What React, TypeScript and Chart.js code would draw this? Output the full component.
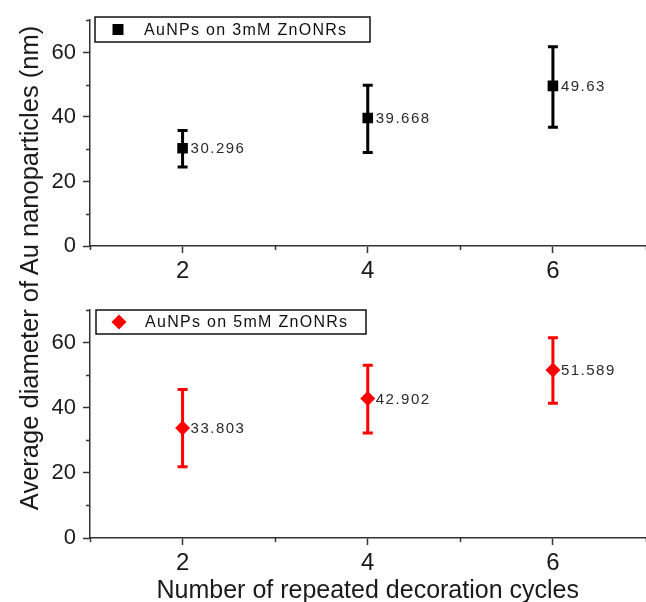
import React, { useEffect, useRef } from "react";
import { Chart, registerables } from "chart.js";

Chart.register(...registerables);

// ---- data ----
const cycles = [2, 4, 6];
const mean3mM = [30.296, 39.668, 49.63];
const low3mM = [24.5, 29.0, 36.8];
const high3mM = [35.8, 49.8, 61.8];
const labels3mM = ["30.296", "39.668", "49.63"];
const mean5mM = [33.803, 42.902, 51.589];
const low5mM = [21.9, 32.3, 41.4];
const high5mM = [45.6, 53.1, 61.5];
const labels5mM = ["33.803", "42.902", "51.589"];
const xMajorTicks = [2, 4, 6];
const xMinorTicks = [1, 3, 5, 7];
const yMajorTicks = [0, 20, 40, 60];
const yMinorTicks = [10, 30, 50, 70];
const legend3mM = "AuNPs on 3mM ZnONRs";
const legend5mM = "AuNPs on 5mM ZnONRs";
const xTitle = "Number of repeated decoration cycles";
const yTitle = "Average diameter of Au nanoparticles (nm)";

const FONT = "'Liberation Sans', Arial, sans-serif";
const AXIS = "#333333";
const TEXT = "#1a1a1a";

const overlayPlugin = {
  id: "overlay",
  beforeDatasetsDraw(chart: any) {
    const o = chart.options.plugins.overlay;
    const ctx = chart.ctx;
    const xs = chart.scales.x;
    const ys = chart.scales.y;
    ctx.save();
    ctx.strokeStyle = o.color;
    ctx.lineWidth = 3;
    ctx.lineCap = "butt";
    o.xs.forEach((xv: number, i: number) => {
      const px = xs.getPixelForValue(xv);
      const pl = ys.getPixelForValue(o.low[i]);
      const ph = ys.getPixelForValue(o.high[i]);
      ctx.beginPath();
      ctx.moveTo(px, pl);
      ctx.lineTo(px, ph);
      ctx.moveTo(px - 5, pl);
      ctx.lineTo(px + 5, pl);
      ctx.moveTo(px - 5, ph);
      ctx.lineTo(px + 5, ph);
      ctx.stroke();
    });
    ctx.restore();
  },
  afterDatasetsDraw(chart: any) {
    const o = chart.options.plugins.overlay;
    const ctx = chart.ctx;
    const xs = chart.scales.x;
    const ys = chart.scales.y;
    ctx.save();
    ctx.fillStyle = "#2a2a2a";
    ctx.font = `15px ${FONT}`;
    (ctx as any).letterSpacing = "1.5px";
    ctx.textAlign = "left";
    ctx.textBaseline = "middle";
    o.xs.forEach((xv: number, i: number) => {
      const px = xs.getPixelForValue(xv);
      const py = ys.getPixelForValue(o.ys[i]);
      ctx.fillText(o.labels[i], px + 8, py + 1);
    });
    ctx.restore();
  },
  afterDraw(chart: any) {
    const o = chart.options.plugins.overlay;
    const ctx = chart.ctx;
    const xs = chart.scales.x;
    const ys = chart.scales.y;
    const area = chart.chartArea;
    ctx.save();
    // minor ticks
    ctx.strokeStyle = AXIS;
    ctx.lineWidth = 1.5;
    ctx.beginPath();
    yMinorTicks.forEach((v) => {
      const py = Math.round(ys.getPixelForValue(v)) + 0.5;
      ctx.moveTo(area.left, py);
      ctx.lineTo(area.left - 4, py);
    });
    xMinorTicks.forEach((v) => {
      const px = Math.round(xs.getPixelForValue(v)) + 0.5;
      ctx.moveTo(px, area.bottom);
      ctx.lineTo(px, area.bottom + 4);
    });
    ctx.stroke();
    // legend
    const b = o.legendBox;
    ctx.fillStyle = "#ffffff";
    ctx.fillRect(b.x, b.y, b.w, b.h);
    ctx.strokeStyle = "#111";
    ctx.lineWidth = 1.5;
    ctx.strokeRect(b.x, b.y, b.w, b.h);
    const mx = b.x + 23;
    const my = b.y + b.h / 2;
    ctx.fillStyle = o.color;
    ctx.beginPath();
    if (o.marker === "rect") {
      ctx.rect(mx - 5.5, my - 5.5, 11, 11);
    } else {
      ctx.moveTo(mx - 7.5, my);
      ctx.lineTo(mx, my - 7.5);
      ctx.lineTo(mx + 7.5, my);
      ctx.lineTo(mx, my + 7.5);
      ctx.closePath();
    }
    ctx.fill();
    ctx.fillStyle = "#111";
    ctx.font = `16px ${FONT}`;
    (ctx as any).letterSpacing = "1.3px";
    ctx.textAlign = "left";
    ctx.textBaseline = "middle";
    ctx.fillText(o.legendText, b.x + 49, my + 1);
    ctx.restore();
  },
};

type PanelProps = {
  means: number[];
  low: number[];
  high: number[];
  labels: string[];
  color: string;
  marker: string;
  legendText: string;
  legendBox: { x: number; y: number; w: number; h: number };
  height: number;
  padTop: number;
  xAxisHeight: number;
  showXTitle: boolean;
  top: number;
};

function Panel(p: PanelProps) {
  const ref = useRef<HTMLCanvasElement | null>(null);
  useEffect(() => {
    if (!ref.current) return;
    const chart = new Chart(ref.current, {
      type: "scatter",
      data: {
        datasets: [
          {
            label: p.legendText,
            data: cycles.map((c, i) => ({ x: c, y: p.means[i] })),
            showLine: false,
            pointStyle: p.marker === "rect" ? "rect" : "rectRot",
            pointRadius: 7.5,
            pointHoverRadius: 7.5,
            backgroundColor: p.color,
            borderColor: p.color,
            borderWidth: 0,
          },
        ],
      },
      options: {
        animation: false,
        responsive: false,
        devicePixelRatio: 1,
        events: [],
        layout: { padding: { top: p.padTop, left: 0, right: 0, bottom: 0 } },
        plugins: {
          legend: { display: false },
          tooltip: { enabled: false },
          overlay: {
            xs: cycles,
            ys: p.means,
            low: p.low,
            high: p.high,
            labels: p.labels,
            color: p.color,
            marker: p.marker,
            legendText: p.legendText,
            legendBox: p.legendBox,
          },
        } as any,
        scales: {
          x: {
            type: "linear",
            min: 1,
            max: 7,
            afterBuildTicks: (s: any) => {
              s.ticks = xMajorTicks.map((v) => ({ value: v }));
            },
            afterFit: (s: any) => {
              s.height = p.xAxisHeight;
            },
            grid: {
              drawOnChartArea: false,
              drawTicks: true,
              tickLength: 7,
              tickWidth: 1.5,
              tickColor: AXIS,
            },
            border: { display: true, color: AXIS, width: 1.5 },
            ticks: {
              color: TEXT,
              font: { family: FONT, size: 24 },
              padding: 4,
              maxRotation: 0,
              autoSkip: false,
              callback: (v: any) => String(v),
            },
            title: {
              display: p.showXTitle,
              text: xTitle,
              color: TEXT,
              font: { family: FONT, size: 25, lineHeight: 0.9 },
              padding: { top: 0, bottom: 0 },
            },
          },
          y: {
            type: "linear",
            min: 0,
            max: 70,
            afterBuildTicks: (s: any) => {
              s.ticks = yMajorTicks.map((v) => ({ value: v }));
            },
            afterFit: (s: any) => {
              s.width = 90;
            },
            grid: {
              drawOnChartArea: false,
              drawTicks: true,
              tickLength: 7,
              tickWidth: 1.5,
              tickColor: AXIS,
            },
            border: { display: true, color: AXIS, width: 1.5 },
            ticks: {
              color: TEXT,
              font: { family: FONT, size: 22 },
              padding: 7,
              callback: (v: any) => String(v),
            },
          },
        },
      },
      plugins: [overlayPlugin as any],
    });
    return () => chart.destroy();
  }, []);
  return (
    <canvas
      ref={ref}
      width={653}
      height={p.height}
      style={{ position: "absolute", left: 0, top: p.top, width: 653, height: p.height }}
    />
  );
}

export default function App() {
  return (
    <div
      style={{
        position: "absolute",
        left: 0,
        top: 0,
        width: 646,
        height: 602,
        overflow: "hidden",
        background: "#ffffff",
      }}
    >
      <Panel
        means={mean3mM}
        low={low3mM}
        high={high3mM}
        labels={labels3mM}
        color="#000000"
        marker="rect"
        legendText={legend3mM}
        legendBox={{ x: 95, y: 17, w: 275, h: 25 }}
        height={290}
        padTop={16}
        xAxisHeight={44}
        showXTitle={false}
        top={0}
      />
      <Panel
        means={mean5mM}
        low={low5mM}
        high={high5mM}
        labels={labels5mM}
        color="#ff0000"
        marker="diamond"
        legendText={legend5mM}
        legendBox={{ x: 96, y: 20, w: 270, h: 24 }}
        height={312}
        padTop={19}
        xAxisHeight={64}
        showXTitle={true}
        top={290}
      />
      <div
        style={{
          position: "absolute",
          left: 29 - 300,
          top: 268 - 15,
          width: 600,
          height: 30,
          lineHeight: "30px",
          textAlign: "center",
          transform: "rotate(-90deg)",
          fontFamily: FONT,
          fontSize: 25.5,
          color: TEXT,
          whiteSpace: "nowrap",
        }}
      >
        {yTitle}
      </div>
    </div>
  );
}
